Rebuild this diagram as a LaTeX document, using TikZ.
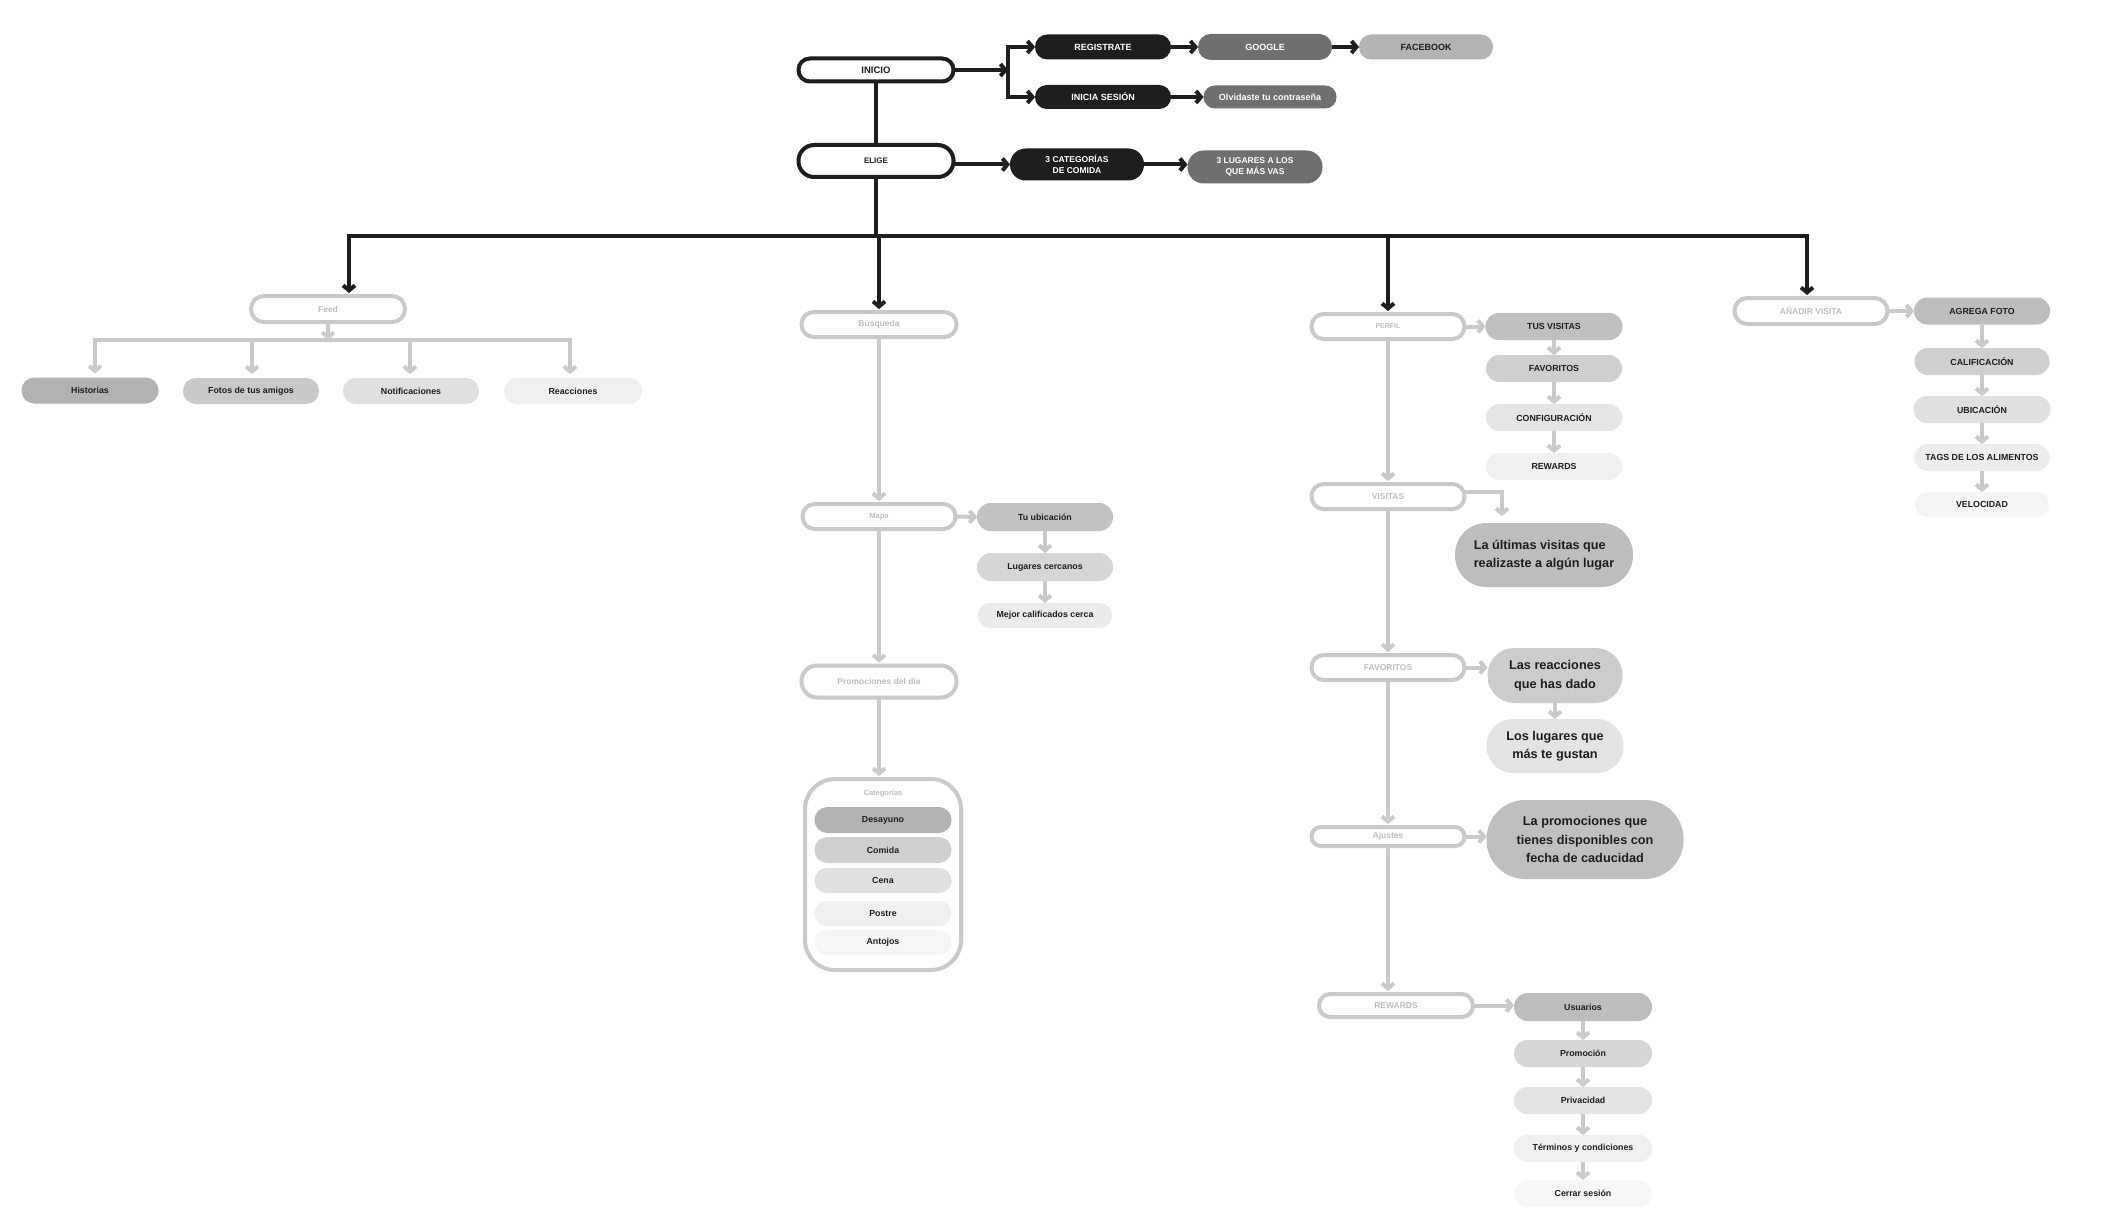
\documentclass[tikz,border=0pt]{standalone}
\usepackage{fontspec}
\setmainfont{Liberation Sans}
\usetikzlibrary{arrows.meta}
\definecolor{ink}{HTML}{1E1E1E}
\definecolor{midg}{HTML}{6F6F6F}
\definecolor{lineg}{HTML}{C9C9C9}
\definecolor{textg}{HTML}{BDBDBD}
\definecolor{fbg}{HTML}{B3B3B3}
\newcommand\fsz[2]{\fontsize{#1}{#2}\selectfont}
\begin{document}
\begin{tikzpicture}[x=1pt,y=-1pt,
 base/.style={rectangle, inner sep=0pt, outer sep=0pt, align=center, font=\bfseries\fsz{8.8}{10.5}},
 pl/.style 2 args={minimum width=#1pt, minimum height=#2pt, rounded corners=#2*0.49pt},
 dark/.style={base, fill=ink, text=white, font=\bfseries\fsz{9}{11.5}},
 midbox/.style={base, fill=midg, text=white, font=\bfseries\fsz{9}{11.5}},
 gbox/.style={base, fill=#1, text=ink},
 big/.style={gbox=#1, font=\bfseries\fsz{12.7}{18.5}},
 startbox/.style={base, draw=ink, line width=4pt, fill=white, text=ink, font=\bfseries\fsz{9.5}{11}},
 obox/.style={base, draw=lineg, line width=4pt, fill=white, text=textg, font=\bfseries\fsz{8.5}{10}},
 blk/.style={draw=ink, line width=4pt},
 blka/.style={blk, -{Straight Barb[length=5pt,width=12pt]}},
 gl/.style={draw=lineg, line width=4pt},
 gla/.style={gl, -{Straight Barb[length=5pt,width=12pt]}},
]
\fill[white] (0,0) rectangle (2105,1217);
\useasboundingbox (0,0) rectangle (2105,1217);

% ---------- top ----------
\node[startbox, pl={155}{23}] (inicio) at (876,70) {INICIO};
\node[startbox, pl={155}{32}, font=\bfseries\fsz{8}{10}] (elige) at (876,161) {ELIGE};
\node[dark, pl={136}{25}] (reg) at (1103,47) {REGISTRATE};
\node[dark, pl={136}{24}] (ses) at (1103,97) {INICIA SESIÓN};
\node[midbox, pl={134}{26}] (goo) at (1265,47) {GOOGLE};
\node[gbox=fbg, font=\bfseries\fsz{9}{11.5}, pl={134}{25}] (fb) at (1426,47) {FACEBOOK};
\node[midbox, pl={133}{23}] (olv) at (1270,97) {Olvidaste tu contraseña};
\node[dark, pl={134}{32}, font=\bfseries\fsz{8.5}{11.5}] (cat3) at (1077,164.5) {3 CATEGORÍAS\\DE COMIDA};
\node[midbox, pl={135}{33}, font=\bfseries\fsz{8.5}{11.5}] (lug3) at (1255,167) {3 LUGARES A LOS\\QUE MÁS VAS};

\coordinate (br) at (1008,70);
\coordinate (brt) at (1008,47);
\coordinate (brb) at (1008,97);
\draw[blk, line cap=rect] (brt) -- (brb);
\draw[blka] (inicio.east) -- (br);
\draw[blka] (brt) -- (brt -| reg.west);
\draw[blka] (brb) -- (brb -| ses.west);
\draw[blka] (reg.east) -- (goo.west);
\draw[blka] (goo.east) -- (fb.west);
\draw[blka] (ses.east) -- (olv.west);
\draw[blka] (elige.east |- cat3.west) -- (cat3.west);
\draw[blka] (cat3.east) -- (cat3.east -| lug3.west);
\draw[blk] (inicio.south) -- (elige.north);

% ---------- level 2 nodes ----------
\node[obox, pl={154}{26}] (feed) at (328,309) {Feed};
\node[obox, pl={155}{25}] (busq) at (879,324.5) {Búsqueda};
\node[obox, pl={153}{25}, font=\bfseries\fsz{7}{9}] (perfil) at (1388,326.5) {PERFIL};
\node[obox, pl={153}{26}] (anadir) at (1811,311) {AÑADIR VISITA};

% bus
\coordinate (bL) at (349,236);
\coordinate (bR) at (1807,236);
\draw[blk, line cap=rect] (bL) -- (bR);
\draw[blk] (elige.south) -- (elige.south |- bL);
\draw[blka, shorten >=3pt] (bL) -- (bL |- feed.north);
\draw[blka, shorten >=3pt] (busq.north |- bL) -- (busq.north);
\draw[blka, shorten >=3pt] (perfil.north |- bL) -- (perfil.north);
\draw[blka, shorten >=3pt] (bR) -- (bR |- anadir.north);

% ---------- Feed ----------
\node[gbox=black!30, pl={137}{26}] (hist) at (90,390.5) {Historias};
\node[gbox=black!21, pl={136}{26}] (fotos) at (251,391) {Fotos de tus amigos};
\node[gbox=black!12, pl={136}{26}] (noti) at (411,391) {Notificaciones};
\node[gbox=black!6, pl={138}{26}] (reac0) at (573,391) {Reacciones};
\coordinate (sb1) at (95,340);
\coordinate (sb2) at (252,340);
\coordinate (sb3) at (410,340);
\coordinate (sb4) at (570,340);
\draw[gl, line cap=rect] (sb1) -- (sb4);
\draw[gla] (feed.south) -- (feed.south |- sb1);
\draw[gla, shorten >=4pt] (sb1) -- (sb1 |- hist.north);
\draw[gla, shorten >=4pt] (sb2) -- (sb2 |- fotos.north);
\draw[gla, shorten >=4pt] (sb3) -- (sb3 |- noti.north);
\draw[gla, shorten >=4pt] (sb4) -- (sb4 |- reac0.north);

% ---------- Busqueda ----------
\node[obox, pl={153}{25}, font=\bfseries\fsz{7.5}{9}] (mapa) at (879,516.5) {Mapa};
\node[obox, pl={155}{32}] (promo) at (879,681.5) {Promociones del día};
\node[base, draw=lineg, line width=4pt, fill=white, minimum width=156pt, minimum height=191pt, rounded corners=30pt] (cat) at (883,874.5) {};
\node[text=textg, font=\bfseries\fsz{7.5}{9}, inner sep=0pt] (catl) at (883,794) {Categorías};
\node[gbox=black!30, pl={137}{26}] (desa) at (883,820) {Desayuno};
\node[gbox=black!19, pl={137}{26}] (comi) at (883,850) {Comida};
\node[gbox=black!12, pl={137}{25}] (cena) at (883,880.5) {Cena};
\node[gbox=black!6, pl={137}{25}] (post) at (883,913.5) {Postre};
\node[gbox=black!3.5, pl={137}{25}] (anto) at (883,942.5) {Antojos};

\node[gbox=black!24, pl={136}{28}] (tuub) at (1045,517) {Tu ubicación};
\node[gbox=black!16, pl={136}{28}] (lugc) at (1045,567) {Lugares cercanos};
\node[gbox=black!8, pl={134}{25}] (mejor) at (1045,615.5) {Mejor calificados cerca};

\draw[gla, shorten >=3pt] (busq.south) -- (mapa.north);
\draw[gla, shorten >=3pt] (mapa.south) -- (promo.north);
\draw[gla, shorten >=3pt] (promo.south) -- (promo.south |- cat.north);
\draw[gla] (mapa.east) -- (tuub.west);
\draw[gla] (tuub.south) -- (lugc.north);
\draw[gla] (lugc.south) -- (mejor.north);

% ---------- Perfil ----------
\node[obox, pl={153}{25}] (visitas) at (1388,496.5) {VISITAS};
\node[obox, pl={153}{25}] (favs) at (1388,667.5) {FAVORITOS};
\node[obox, pl={153}{19}] (ajus) at (1388,836.5) {Ajustes};
\node[obox, pl={154}{23}] (rew) at (1396,1005.5) {REWARDS};

\node[gbox=black!25, pl={137}{27}] (tusv) at (1554,326.5) {TUS VISITAS};
\node[gbox=black!19, pl={136}{27}] (favo) at (1554,368.5) {FAVORITOS};
\node[gbox=black!10, pl={136}{27}] (conf) at (1554,417.5) {CONFIGURACIÓN};
\node[gbox=black!6, pl={136}{27}] (rewd) at (1554,466.5) {REWARDS};

\node[big=black!26, pl={178}{64}, align=left] (lastv) at (1544,555) {La últimas visitas que\\realizaste a algún lugar};
\node[big=black!20, pl={135}{55}] (reac) at (1555,675.5) {Las reacciones\\que has dado};
\node[big=black!11, pl={137}{54}] (lugg) at (1555,746) {Los lugares que\\más te gustan};
\node[big=black!25, pl={197}{79}] (promd) at (1585,839.5) {La promociones que\\tienes disponibles con\\fecha de caducidad};

\node[gbox=black!26, pl={138}{28}] (usu) at (1583,1007) {Usuarios};
\node[gbox=black!16, pl={138}{27}] (prm) at (1583,1053.5) {Promoción};
\node[gbox=black!11, pl={138}{27}] (priv) at (1583,1100.5) {Privacidad};
\node[gbox=black!6, pl={138}{27}] (term) at (1583,1148.5) {Términos y condiciones};
\node[gbox=black!3.5, pl={138}{27}] (cerr) at (1583,1193.5) {Cerrar sesión};

\draw[gla, shorten >=3pt] (perfil.south) -- (visitas.north);
\draw[gla, shorten >=3pt] (visitas.south) -- (favs.north);
\draw[gla, shorten >=3pt] (favs.south) -- (ajus.north);
\draw[gla, shorten >=3pt] (ajus.south) -- (ajus.south |- rew.north);

\draw[gla] (perfil.east) -- (tusv.west);
\draw[gla] (tusv.south) -- (favo.north);
\draw[gla] (favo.south) -- (conf.north);
\draw[gla] (conf.south) -- (rewd.north);

\coordinate (vt) at (1502,516);
\draw[gla] ([yshift=5pt]visitas.east) -| (vt);

\draw[gla] (favs.east) -- (favs.east -| reac.west);
\draw[gla] (reac.south) -- (lugg.north);
\draw[gla] (ajus.east) -- (ajus.east -| promd.west);

\draw[gla] (rew.east) -- (rew.east -| usu.west);
\draw[gla] (usu.south) -- (prm.north);
\draw[gla] (prm.south) -- (priv.north);
\draw[gla] (priv.south) -- (term.north);
\draw[gla] (term.south) -- (cerr.north);

% ---------- Anadir visita ----------
\node[gbox=black!26, pl={136}{27}] (agf) at (1982,311) {AGREGA FOTO};
\node[gbox=black!19, pl={135}{27}] (calif) at (1982,361.5) {CALIFICACIÓN};
\node[gbox=black!12, pl={137}{27}] (ubic) at (1982,409.5) {UBICACIÓN};
\node[gbox=black!7, pl={135}{27}] (tags) at (1982,457.5) {TAGS DE LOS ALIMENTOS};
\node[gbox=black!4, pl={134}{25}] (velo) at (1982,504.5) {VELOCIDAD};

\draw[gla] (anadir.east) -- (agf.west);
\draw[gla] (agf.south) -- (calif.north);
\draw[gla] (calif.south) -- (ubic.north);
\draw[gla] (ubic.south) -- (tags.north);
\draw[gla] (tags.south) -- (velo.north);
\end{tikzpicture}
\end{document}
